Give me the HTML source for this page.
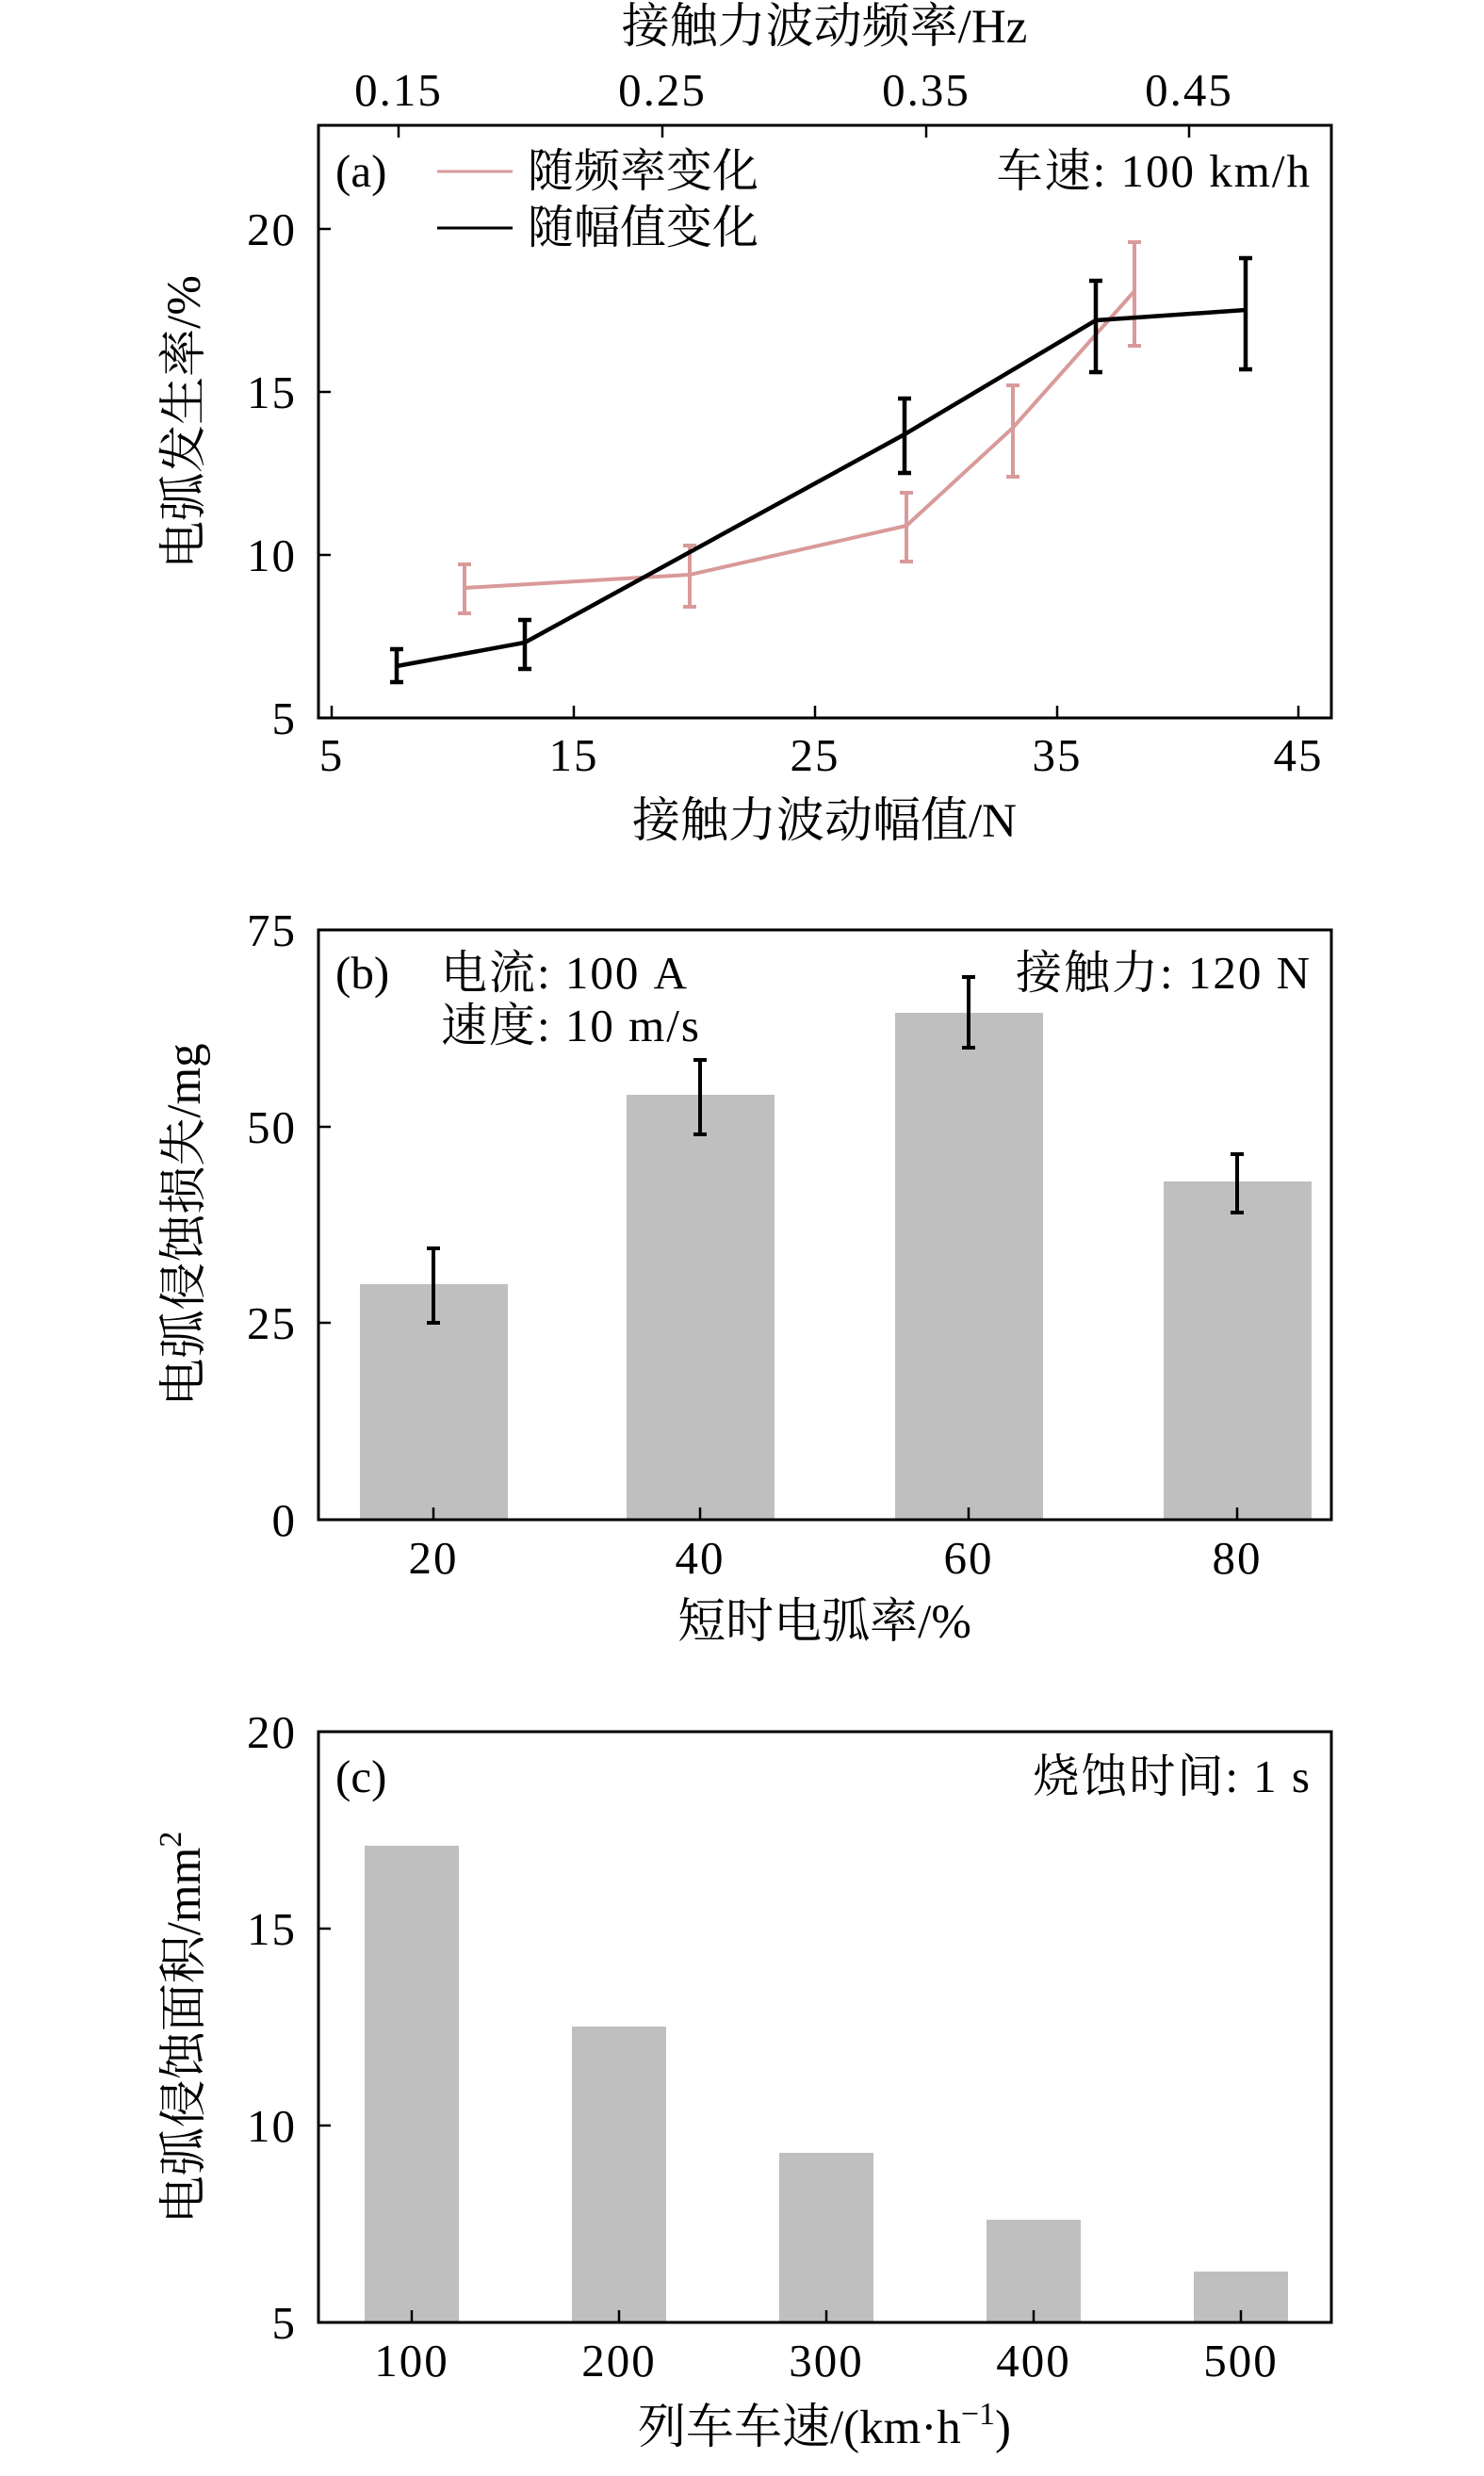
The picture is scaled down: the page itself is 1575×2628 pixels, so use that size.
<!DOCTYPE html>
<html><head><meta charset="utf-8"><style>
html,body{margin:0;padding:0;background:#fff}
svg{display:block}
text{font-family:"Liberation Serif","Noto Serif CJK SC",serif;fill:#000}
</style></head><body>
<svg width="1575" height="2628" viewBox="0 0 1575 2628" xmlns="http://www.w3.org/2000/svg">
<g font-size="49">
<!-- Panel a -->
<text x="875" y="45" text-anchor="middle" font-size="51">接触力波动频率/Hz</text>
<g text-anchor="middle" letter-spacing="2">
<text x="423" y="112">0.15</text><text x="703" y="112">0.25</text><text x="983" y="112">0.35</text><text x="1262" y="112">0.45</text>
<text x="352" y="818">5</text><text x="609" y="818">15</text><text x="865" y="818">25</text><text x="1122" y="818">35</text><text x="1378" y="818">45</text>
</g>
<g text-anchor="end" letter-spacing="2">
<text x="315" y="260">20</text><text x="315" y="433">15</text><text x="315" y="606">10</text><text x="315" y="779">5</text>
</g>
<text x="875" y="888" text-anchor="middle" font-size="51">接触力波动幅值/N</text>
<text transform="translate(212,448) rotate(-90)" text-anchor="middle" font-size="51">电弧发生率/%</text>
<rect x="338" y="133" width="1075" height="629" fill="none" stroke="#000" stroke-width="3"/>
<g stroke="#000" stroke-width="2.5">
<line x1="423" y1="133" x2="423" y2="146"/><line x1="703" y1="133" x2="703" y2="146"/><line x1="983" y1="133" x2="983" y2="146"/><line x1="1262" y1="133" x2="1262" y2="146"/>
<line x1="352" y1="762" x2="352" y2="749"/><line x1="609" y1="762" x2="609" y2="749"/><line x1="865" y1="762" x2="865" y2="749"/><line x1="1122" y1="762" x2="1122" y2="749"/><line x1="1378" y1="762" x2="1378" y2="749"/>
<line x1="338" y1="243" x2="351" y2="243"/><line x1="338" y1="416" x2="351" y2="416"/><line x1="338" y1="589" x2="351" y2="589"/>
</g>
<text x="356" y="198">(a)</text>
<line x1="464" y1="182" x2="544" y2="182" stroke="#d99a9a" stroke-width="3"/>
<text x="560" y="198">随频率变化</text>
<line x1="464" y1="242" x2="544" y2="242" stroke="#000" stroke-width="3"/>
<text x="560" y="258">随幅值变化</text>
<text x="1392" y="198" text-anchor="end" letter-spacing="2">车速: 100 km/h</text>
<g stroke="#d99a9a" stroke-width="4" fill="none">
<polyline points="493,624 732,610 962,558 1075,454 1204,309"/>
<path d="M493,651V599M486,651h14M486,599h14 M732,644V579M725,644h14M725,579h14 M962,596V523M955,596h14M955,523h14 M1075,506V409M1068,506h14M1068,409h14 M1204,367V257M1197,367h14M1197,257h14"/>
</g>
<g stroke="#000" stroke-width="4.5" fill="none">
<polyline points="421,707 557,682 960,461 1163,340 1322,329"/>
<path d="M421,724V689M414,724h14M414,689h14 M557,710V658M550,710h14M550,658h14 M960,502V423M953,502h14M953,423h14 M1163,395V298M1156,395h14M1156,298h14 M1322,392V274M1315,392h14M1315,274h14"/>
</g>

<!-- Panel b -->
<g fill="#bfbfbf">
<rect x="382" y="1363" width="157" height="250"/><rect x="665" y="1162" width="157" height="451"/><rect x="950" y="1075" width="157" height="538"/><rect x="1235" y="1254" width="157" height="359"/>
</g>
<g stroke="#000" stroke-width="4" fill="none">
<path d="M460,1404V1325M453,1404h14M453,1325h14 M743,1204V1125M736,1204h14M736,1125h14 M1028,1112V1037M1021,1112h14M1021,1037h14 M1313,1287V1225M1306,1287h14M1306,1225h14"/>
</g>
<rect x="338" y="987" width="1075" height="626" fill="none" stroke="#000" stroke-width="3"/>
<g stroke="#000" stroke-width="2.5">
<line x1="338" y1="1404" x2="351" y2="1404"/><line x1="338" y1="1196" x2="351" y2="1196"/>
<line x1="460" y1="1613" x2="460" y2="1600"/><line x1="743" y1="1613" x2="743" y2="1600"/><line x1="1028" y1="1613" x2="1028" y2="1600"/><line x1="1313" y1="1613" x2="1313" y2="1600"/>
</g>
<g text-anchor="end" letter-spacing="2">
<text x="315" y="1004">75</text><text x="315" y="1213">50</text><text x="315" y="1421">25</text><text x="315" y="1630">0</text>
</g>
<g text-anchor="middle" letter-spacing="2">
<text x="460" y="1670">20</text><text x="743" y="1670">40</text><text x="1028" y="1670">60</text><text x="1313" y="1670">80</text>
</g>
<text x="875" y="1738" text-anchor="middle" font-size="51">短时电弧率/%</text>
<text transform="translate(212,1300) rotate(-90)" text-anchor="middle" font-size="51">电弧侵蚀损失/mg</text>
<text x="356" y="1049">(b)</text>
<text x="468" y="1049" letter-spacing="2">电流: 100 A</text>
<text x="468" y="1105" letter-spacing="2">速度: 10 m/s</text>
<text x="1392" y="1049" text-anchor="end" letter-spacing="2">接触力: 120 N</text>

<!-- Panel c -->
<g fill="#bfbfbf">
<rect x="387" y="1959" width="100" height="506"/><rect x="607" y="2151" width="100" height="314"/><rect x="827" y="2285" width="100" height="180"/><rect x="1047" y="2356" width="100" height="109"/><rect x="1267" y="2411" width="100" height="54"/>
</g>
<rect x="338" y="1838" width="1075" height="627" fill="none" stroke="#000" stroke-width="3"/>
<g stroke="#000" stroke-width="2.5">
<line x1="338" y1="2047" x2="351" y2="2047"/><line x1="338" y1="2256" x2="351" y2="2256"/>
<line x1="437" y1="2465" x2="437" y2="2452"/><line x1="657" y1="2465" x2="657" y2="2452"/><line x1="877" y1="2465" x2="877" y2="2452"/><line x1="1097" y1="2465" x2="1097" y2="2452"/><line x1="1317" y1="2465" x2="1317" y2="2452"/>
</g>
<g text-anchor="end" letter-spacing="2">
<text x="315" y="1855">20</text><text x="315" y="2064">15</text><text x="315" y="2273">10</text><text x="315" y="2482">5</text>
</g>
<g text-anchor="middle" letter-spacing="2">
<text x="437" y="2522">100</text><text x="657" y="2522">200</text><text x="877" y="2522">300</text><text x="1097" y="2522">400</text><text x="1317" y="2522">500</text>
</g>
<text x="875" y="2593" text-anchor="middle" font-size="51">列车车速/(km·h<tspan font-size="34" dy="-20">−1</tspan><tspan dy="20">)</tspan></text>
<text transform="translate(212,2152) rotate(-90)" text-anchor="middle" font-size="51">电弧侵蚀面积/mm<tspan font-size="34" dy="-20">2</tspan></text>
<text x="356" y="1902">(c)</text>
<text x="1392" y="1902" text-anchor="end" letter-spacing="2">烧蚀时间: 1 s</text>
</g>
</svg>
</body></html>
